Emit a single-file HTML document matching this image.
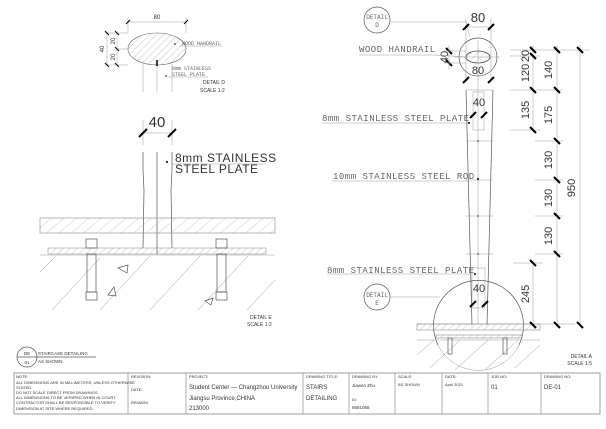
<!DOCTYPE html>
<html><head><meta charset="utf-8"><style>
html,body{margin:0;padding:0;background:#fff;width:606px;height:429px;overflow:hidden}
svg{display:block}
text{font-family:"Liberation Sans",sans-serif;fill:#333}
.l{stroke:#555;stroke-width:0.7;fill:none}
.t{stroke:#999;stroke-width:0.5;fill:none}
.k{stroke:#000;stroke-width:2;fill:none}
.g{font-family:"Liberation Mono",monospace;fill:#666}
</style></head><body>
<svg width="606" height="429" viewBox="0 0 606 429" xmlns="http://www.w3.org/2000/svg">
<defs>
<pattern id="hp" width="5" height="5" patternUnits="userSpaceOnUse" patternTransform="rotate(45)"><line x1="0" y1="0" x2="0" y2="5" stroke="#888" stroke-width="0.5"/></pattern>
<pattern id="hp2" width="8" height="8" patternUnits="userSpaceOnUse" patternTransform="rotate(50)"><line x1="0" y1="0" x2="0" y2="8" stroke="#999" stroke-width="0.5"/></pattern>
</defs>

<!-- DETAIL D (small, top left) -->
<line class="t" x1="128" y1="22" x2="186" y2="22"/>
<line class="t" x1="128" y1="18" x2="128" y2="33"/><line class="t" x1="186" y1="18" x2="186" y2="33"/>
<line stroke="#000" stroke-width="1" x1="126" y1="24" x2="130" y2="20"/><line stroke="#000" stroke-width="1" x1="184" y1="24" x2="188" y2="20"/>
<text x="157" y="19" font-size="6" text-anchor="middle" fill="#777">80</text>
<ellipse cx="157" cy="49" rx="29" ry="16" fill="url(#hp)" stroke="#666" stroke-width="0.6"/>
<line class="t" x1="105" y1="33" x2="128" y2="33"/><line class="t" x1="105" y1="65" x2="128" y2="65"/>
<line class="t" x1="117" y1="49" x2="128" y2="49"/>
<line class="t" x1="107" y1="33" x2="107" y2="65"/><line class="t" x1="117" y1="33" x2="117" y2="65"/>
<g stroke="#000" stroke-width="1"><line x1="105" y1="31" x2="109" y2="35"/><line x1="105" y1="63" x2="109" y2="67"/><line x1="115" y1="31" x2="119" y2="35"/><line x1="115" y1="47" x2="119" y2="51"/><line x1="115" y1="63" x2="119" y2="67"/></g>
<text x="101" y="52" font-size="6" fill="#777" transform="rotate(-90 101 49)" text-anchor="middle">40</text>
<text x="113" y="43" font-size="6" fill="#777" transform="rotate(-90 113 41)" text-anchor="middle">20</text>
<text x="113" y="59" font-size="6" fill="#777" transform="rotate(-90 113 57)" text-anchor="middle">20</text>
<line class="t" x1="143" y1="64" x2="143" y2="92"/><line class="t" x1="157" y1="62" x2="157" y2="92"/><line class="t" x1="172" y1="64" x2="172" y2="92"/>
<line stroke="#000" stroke-width="1.5" x1="157" y1="60" x2="157" y2="66"/>
<circle cx="175" cy="44" r="0.8" fill="#000"/>
<text x="182" y="45" font-size="5" class="g">WOOD HANDRAIL</text><line class="t" x1="180" y1="46" x2="222" y2="46"/>
<text x="172" y="70" font-size="5" class="g">8mm STAINLESS</text>
<text x="172" y="76" font-size="5" class="g">STEEL PLATE</text><line class="t" x1="168" y1="77" x2="208" y2="77"/>
<circle cx="166" cy="76" r="0.8" fill="#000"/>
<text x="203" y="84" font-size="5" fill="#000">DETAIL D</text>
<text x="200" y="92" font-size="5" fill="#000">SCALE 1:2</text>

<!-- DETAIL E -->
<text x="157" y="127" font-size="15" text-anchor="middle" fill="#888">40</text>
<line class="t" x1="143" y1="133" x2="172" y2="133"/>
<line class="t" x1="143" y1="120" x2="143" y2="145"/><line class="t" x1="172" y1="120" x2="172" y2="145"/>
<g stroke="#000" stroke-width="2"><line x1="139" y1="137" x2="147" y2="129"/><line x1="168" y1="137" x2="176" y2="129"/></g>
<path class="l" d="M143 152 L143 170 L144 190 L143 248"/><path class="l" d="M172 152 L172 170 L171 190 L172 248"/>
<line class="l" x1="157" y1="152" x2="157" y2="254"/>
<circle cx="167" cy="162" r="1" fill="#000"/>
<text x="175" y="162" font-size="12" fill="#888" font-family="Liberation Mono,monospace" letter-spacing="0.5">8mm STAINLESS</text>
<text x="175" y="173" font-size="12" fill="#888" font-family="Liberation Mono,monospace" letter-spacing="0.5">STEEL PLATE</text>
<line class="t" x1="172" y1="164" x2="266" y2="164"/>
<rect x="40" y="218" width="235" height="15" fill="url(#hp2)" stroke="#888" stroke-width="0.6"/>
<rect x="48" y="248" width="218" height="6" fill="url(#hp)" stroke="#888" stroke-width="0.5"/>
<line class="t" x1="40" y1="255" x2="275" y2="255" stroke-width="1"/>
<g class="t">
<line x1="52" y1="310" x2="100" y2="258"/><line x1="40" y1="272" x2="55" y2="257"/>
<line x1="100" y1="310" x2="150" y2="256"/><line x1="150" y1="310" x2="200" y2="256"/>
<line x1="198" y1="310" x2="248" y2="256"/><line x1="247" y1="310" x2="275" y2="280"/>
</g>
<g class="l">
<rect x="86" y="239" width="11" height="9"/><rect x="87" y="254" width="9" height="38"/><rect x="86" y="292" width="11" height="8"/>
<rect x="216" y="239" width="11" height="9"/><rect x="217" y="254" width="9" height="38"/><rect x="216" y="292" width="11" height="8"/>
<path d="M118 268 L128 265 L127 273 Z"/><path d="M108 295 L114 287 L116 296 Z"/><path d="M205 301 L213 298 L211 305 Z"/>
</g>
<text x="250" y="319" font-size="5" fill="#000">DETAIL E</text>
<text x="247" y="326" font-size="5" fill="#000">SCALE 1:2</text>

<!-- DETAIL A -->
<circle cx="377" cy="20" r="13" class="l"/>
<text x="377" y="19" font-size="6" text-anchor="middle" class="g">DETAIL</text>
<text x="377" y="27" font-size="6" text-anchor="middle" class="g">D</text>
<line class="t" x1="390" y1="22" x2="466" y2="22"/><line class="t" x1="466" y1="22" x2="470" y2="37"/>
<text x="478" y="22" font-size="13" text-anchor="middle" fill="#666">80</text>
<line class="t" x1="466" y1="27" x2="491" y2="27"/>
<line class="t" x1="466" y1="18" x2="466" y2="82"/><line class="t" x1="491" y1="18" x2="491" y2="82"/>
<g class="k"><line x1="463" y1="30" x2="469" y2="24"/><line x1="488" y1="30" x2="494" y2="24"/><line x1="463" y1="83" x2="469" y2="77"/><line x1="488" y1="83" x2="494" y2="77"/><line x1="446" y1="48" x2="452" y2="54"/><line x1="446" y1="60" x2="452" y2="66"/></g>
<circle cx="478" cy="57" r="19" class="l"/>
<ellipse cx="478" cy="57" rx="12" ry="6" fill="url(#hp)" stroke="#444" stroke-width="0.8"/>
<line class="t" x1="455" y1="57" x2="500" y2="57"/><line class="t" x1="478" y1="40" x2="478" y2="325"/>
<line class="t" x1="444" y1="51" x2="466" y2="51"/><line class="t" x1="444" y1="63" x2="466" y2="63"/><line class="t" x1="449" y1="45" x2="449" y2="70"/>
<text x="445" y="60" font-size="11" fill="#777" transform="rotate(-90 445 57)" text-anchor="middle">40</text>
<text x="478" y="74" font-size="11" fill="#888" text-anchor="middle">80</text>
<text x="359" y="52" font-size="9" class="g" letter-spacing="0.5">WOOD HANDRAIL</text>
<line class="t" x1="359" y1="55" x2="435" y2="55"/><line class="t" x1="435" y1="55" x2="466" y2="57"/>
<!-- post -->
<path class="l" d="M466 90 L472 325"/><path class="l" d="M493 90 L487 325"/>
<line class="t" x1="466" y1="90" x2="493" y2="90"/>
<rect x="473" y="92" width="11" height="38" class="t"/>
<text x="479" y="106" font-size="11" fill="#888" text-anchor="middle">40</text>
<g class="k"><line x1="470" y1="118" x2="476" y2="112"/><line x1="481" y1="118" x2="487" y2="112"/></g>
<circle cx="469" cy="123" r="1" fill="#000"/>
<text x="322" y="121" font-size="9" class="g" letter-spacing="0.5">8mm STAINLESS STEEL PLATE</text>
<line class="t" x1="322" y1="123" x2="468" y2="123"/>
<g class="t"><line x1="466" y1="141" x2="493" y2="141"/><line x1="466" y1="216" x2="493" y2="216"/><line x1="466" y1="254" x2="493" y2="254"/><line x1="466" y1="180" x2="493" y2="180"/></g>
<g fill="#777"><circle cx="478" cy="141" r="1"/><circle cx="478" cy="216" r="1"/><circle cx="478" cy="254" r="1"/></g>
<circle cx="478" cy="179" r="1" fill="#000"/>
<text x="333" y="179" font-size="9" class="g" letter-spacing="0.5">10mm STAINLESS STEEL ROD</text>
<line class="t" x1="332" y1="181" x2="468" y2="181"/>
<text x="327" y="273" font-size="9" class="g" letter-spacing="0.5">8mm STAINLESS STEEL PLATE</text>
<line class="t" x1="327" y1="274" x2="471" y2="274"/>
<rect x="472" y="268" width="13" height="40" class="t"/>
<circle cx="475" cy="274" r="1" fill="#000"/>
<text x="479" y="292" font-size="11" fill="#888" text-anchor="middle">40</text>
<g class="k"><line x1="470" y1="307" x2="476" y2="301"/><line x1="482" y1="307" x2="488" y2="301"/></g>
<circle cx="377" cy="297" r="13" class="l"/>
<text x="377" y="297" font-size="6" text-anchor="middle" class="g">DETAIL</text>
<text x="377" y="305" font-size="6" text-anchor="middle" class="g">E</text>
<line class="t" x1="390" y1="297" x2="440" y2="297"/>
<path class="l" d="M438 345 A45 45 0 1 1 519 345"/>
<path class="t" d="M438 345 A45 45 0 0 0 519 345"/>
<rect x="417" y="324" width="123" height="6" fill="url(#hp)" stroke="#777" stroke-width="0.5"/>
<line class="t" x1="417" y1="324" x2="575" y2="324"/>
<rect x="436" y="335" width="86" height="3" fill="url(#hp)" stroke="#777" stroke-width="0.5"/>
<line class="t" x1="417" y1="340" x2="540" y2="340"/>
<g class="t"><line x1="417" y1="355" x2="434" y2="340"/><line x1="430" y1="368" x2="460" y2="340"/><line x1="455" y1="370" x2="488" y2="340"/><line x1="485" y1="370" x2="518" y2="340"/><line x1="515" y1="368" x2="540" y2="345"/></g>
<g class="l"><rect x="448" y="338" width="4" height="16"/><rect x="503" y="338" width="4" height="16"/></g>
<!-- dimension chains -->
<g class="t">
<line x1="533" y1="45" x2="533" y2="130"/><line x1="557" y1="45" x2="557" y2="325"/><line x1="580" y1="45" x2="580" y2="325"/>
<line x1="533" y1="263" x2="533" y2="325"/>
<line x1="510" y1="50" x2="590" y2="50"/><line x1="510" y1="56" x2="540" y2="56"/>
<line x1="510" y1="90" x2="563" y2="90"/><line x1="510" y1="130" x2="540" y2="130"/>
<line x1="535" y1="141" x2="563" y2="141"/><line x1="535" y1="180" x2="563" y2="180"/>
<line x1="535" y1="216" x2="563" y2="216"/><line x1="535" y1="254" x2="563" y2="254"/>
<line x1="513" y1="263" x2="543" y2="263"/>
</g>
<g class="k">
<line x1="530" y1="47" x2="536" y2="53"/><line x1="530" y1="53" x2="536" y2="59"/><line x1="530" y1="87" x2="536" y2="93"/><line x1="530" y1="127" x2="536" y2="133"/>
<line x1="554" y1="47" x2="560" y2="53"/><line x1="554" y1="87" x2="560" y2="93"/><line x1="554" y1="138" x2="560" y2="144"/><line x1="554" y1="177" x2="560" y2="183"/><line x1="554" y1="213" x2="560" y2="219"/><line x1="554" y1="251" x2="560" y2="257"/><line x1="554" y1="322" x2="560" y2="328"/>
<line x1="577" y1="47" x2="583" y2="53"/><line x1="577" y1="322" x2="583" y2="328"/>
<line x1="530" y1="260" x2="536" y2="266"/><line x1="530" y1="322" x2="536" y2="328"/>
</g>
<g font-size="11" fill="#888">
<text transform="translate(529 56) rotate(-90)" text-anchor="middle">20</text>
<text transform="translate(529 73) rotate(-90)" text-anchor="middle">120</text>
<text transform="translate(552 70) rotate(-90)" text-anchor="middle">140</text>
<text transform="translate(529 110) rotate(-90)" text-anchor="middle">135</text>
<text transform="translate(552 115) rotate(-90)" text-anchor="middle">175</text>
<text transform="translate(552 160) rotate(-90)" text-anchor="middle">130</text>
<text transform="translate(552 198) rotate(-90)" text-anchor="middle">130</text>
<text transform="translate(552 236) rotate(-90)" text-anchor="middle">130</text>
<text transform="translate(575 188) rotate(-90)" text-anchor="middle">950</text>
<text transform="translate(529 294) rotate(-90)" text-anchor="middle">245</text>
</g>
<text x="592" y="358" font-size="5" fill="#000" text-anchor="end">DETAIL A</text>
<text x="592" y="365" font-size="5" fill="#000" text-anchor="end">SCALE 1:5</text>

<!-- bottom left label -->
<circle cx="27" cy="357" r="10" class="l"/>
<line class="l" x1="17" y1="357" x2="96" y2="357"/>
<text x="27" y="355" font-size="4.5" text-anchor="middle" fill="#000">DE</text>
<text x="27" y="364" font-size="4.5" text-anchor="middle" fill="#000">01</text>
<text x="38" y="355" font-size="4.5" fill="#000">STAIRCASE DETAILING</text>
<text x="38" y="363" font-size="4.5" fill="#000">AS SHOWN</text>

<!-- title block -->
<rect x="14" y="373" width="586" height="41" fill="none" stroke="#777" stroke-width="0.7"/>
<g stroke="#777" stroke-width="0.6">
<line x1="128" y1="373" x2="128" y2="414"/><line x1="186" y1="373" x2="186" y2="414"/><line x1="303" y1="373" x2="303" y2="414"/><line x1="349" y1="373" x2="349" y2="414"/><line x1="395" y1="373" x2="395" y2="414"/><line x1="442" y1="373" x2="442" y2="414"/><line x1="488" y1="373" x2="488" y2="414"/><line x1="541" y1="373" x2="541" y2="414"/>
</g>
<g font-size="4" fill="#000">
<text x="16" y="378">NOTE:</text>
<text x="16" y="384">ALL DIMENSIONS ARE IN MILLIMETERS, UNLESS OTHERWISE</text>
<text x="16" y="389">STATED.</text>
<text x="16" y="394">DO NOT SCALE DIRECT FROM DRAWINGS.</text>
<text x="16" y="399">ALL DIMENSIONS TO BE VERIFIED WHEN IN COURT.</text>
<text x="16" y="404">CONTRACTOR SHALL BE RESPONSIBLE TO VERIFY</text>
<text x="16" y="410">DIMENSION AT SITE WHERE REQUIRED.</text>
<text x="131" y="378">REVISION:</text><text x="131" y="391">DATE:</text><text x="131" y="404">REMARK:</text>
<text x="189" y="378">PROJECT:</text>
<text x="306" y="378">DRAWING TITLE:</text>
<text x="352" y="378">DRAWING BY:</text>
<text x="352" y="401">ID:</text>
<text x="398" y="378">SCALE:</text><text x="398" y="386">AS SHOWN</text>
<text x="445" y="378">DATE:</text><text x="445" y="386">April 2021</text>
<text x="491" y="378">JOB NO:</text>
<text x="544" y="378">DRAWING NO:</text>
</g>
<g font-size="6" fill="#000">
<text x="189" y="389">Student Center — Changzhou University</text>
<text x="189" y="400">Jiangsu Province,CHINA</text>
<text x="189" y="410">213000</text>
<text x="306" y="389">STAIRS</text>
<text x="306" y="400">DETAILING</text>
<text x="491" y="389">01</text>
<text x="544" y="389">DE-01</text>
</g>
<g font-size="4.5" fill="#000"><text x="352" y="387">Jiawen Zhu</text><text x="352" y="409">5681068</text></g>
</svg>
</body></html>
